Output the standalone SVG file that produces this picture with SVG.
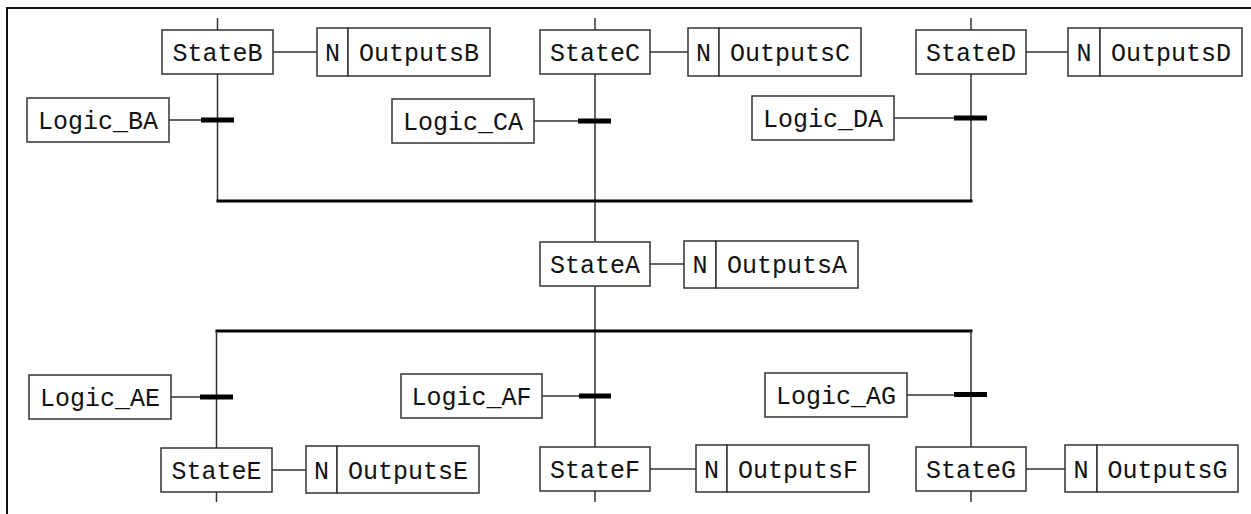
<svg xmlns="http://www.w3.org/2000/svg" width="1251" height="514" viewBox="0 0 1251 514">
  <style>
    .box { fill: #fff; stroke: #333; stroke-width: 1.5; }
    .lbl { font-family: "Liberation Mono", "Courier New", monospace; font-size: 25px; fill: #111; text-anchor: middle; }
    .wire { stroke: #333; stroke-width: 1.5; fill: none; }
    .sync { stroke: #000; stroke-width: 3; fill: none; }
    .bar { stroke: #000; stroke-width: 5; fill: none; }
    .frame { stroke: #111; stroke-width: 2; fill: none; }
  </style>

  <rect x="0" y="0" width="1251" height="514" fill="#fff"/>
  <path class="frame" d="M7,514 V8 H1251"/>

  <!-- connectors: step links, transition bars and divergence/convergence lines -->
  <g id="connectors">
    <path class="wire" d="M217.5,18 V30 M595,18 V30 M971,18 V30"/>
    <path class="wire" d="M273,52 H317 M650,52 H688 M1026,52 H1068"/>
    <path class="wire" d="M217.5,74 V201 M595,74 V242 M971,74 V201"/>
    <path class="wire" d="M169,120 H201 M534,121 H578 M894,118 H954"/>
    <path class="bar" d="M201,120 H234 M578,121 H611 M954,118 H987"/>
    <path class="sync" d="M216.5,201 H972.5"/>
    <path class="wire" d="M650,264 H684"/>
    <path class="wire" d="M595,286 V447"/>
    <path class="sync" d="M215.5,331 H972.5"/>
    <path class="wire" d="M216.5,331 V448 M971,331 V447"/>
    <path class="wire" d="M171,397 H200 M542,396 H579 M907,395 H954"/>
    <path class="bar" d="M200,397 H233 M579,396 H611 M954,394.5 H987"/>
    <path class="wire" d="M272,470 H306 M650,469 H696 M1026,469 H1065"/>
    <path class="wire" d="M216.5,492 V502 M595,491 V502 M971,491 V502"/>
  </g>

  <!-- steps -->
  <g id="StateB"><rect class="box" x="162" y="30" width="111" height="44"/><text class="lbl" x="217.5" y="61">StateB</text></g>
  <g id="StateC"><rect class="box" x="540" y="30" width="110" height="44"/><text class="lbl" x="595" y="61">StateC</text></g>
  <g id="StateD"><rect class="box" x="916" y="30" width="110" height="44"/><text class="lbl" x="971" y="61">StateD</text></g>
  <g id="StateA"><rect class="box" x="540" y="242" width="110" height="44"/><text class="lbl" x="595" y="273">StateA</text></g>
  <g id="StateE"><rect class="box" x="161" y="448" width="111" height="44"/><text class="lbl" x="216.5" y="479">StateE</text></g>
  <g id="StateF"><rect class="box" x="540" y="447" width="110" height="44"/><text class="lbl" x="595" y="478">StateF</text></g>
  <g id="StateG"><rect class="box" x="916" y="447" width="110" height="44"/><text class="lbl" x="971" y="478">StateG</text></g>

  <!-- actions -->
  <g id="ActionB"><rect class="box" x="317" y="28" width="31" height="48"/><rect class="box" x="348" y="28" width="142" height="48"/><text class="lbl" x="332.5" y="61">N</text><text class="lbl" x="419" y="61">OutputsB</text></g>
  <g id="ActionC"><rect class="box" x="688" y="28" width="31" height="48"/><rect class="box" x="719" y="28" width="142" height="48"/><text class="lbl" x="703.5" y="61">N</text><text class="lbl" x="790" y="61">OutputsC</text></g>
  <g id="ActionD"><rect class="box" x="1068" y="28" width="32" height="48"/><rect class="box" x="1100" y="28" width="142" height="48"/><text class="lbl" x="1084" y="61">N</text><text class="lbl" x="1171" y="61">OutputsD</text></g>
  <g id="ActionA"><rect class="box" x="684" y="241" width="32" height="47"/><rect class="box" x="716" y="241" width="142" height="47"/><text class="lbl" x="700" y="273">N</text><text class="lbl" x="787" y="273">OutputsA</text></g>
  <g id="ActionE"><rect class="box" x="306" y="446" width="31" height="47"/><rect class="box" x="337" y="446" width="142" height="47"/><text class="lbl" x="321.5" y="479">N</text><text class="lbl" x="408" y="479">OutputsE</text></g>
  <g id="ActionF"><rect class="box" x="696" y="445" width="31" height="47"/><rect class="box" x="727" y="445" width="142" height="47"/><text class="lbl" x="711.5" y="478">N</text><text class="lbl" x="798" y="478">OutputsF</text></g>
  <g id="ActionG"><rect class="box" x="1065" y="445" width="32" height="47"/><rect class="box" x="1097" y="445" width="141" height="47"/><text class="lbl" x="1081" y="478">N</text><text class="lbl" x="1167.5" y="478">OutputsG</text></g>

  <!-- transition conditions -->
  <g id="Logic_BA"><rect class="box" x="27" y="98" width="142" height="44"/><text class="lbl" x="98" y="129">Logic_BA</text></g>
  <g id="Logic_CA"><rect class="box" x="392" y="99" width="142" height="44"/><text class="lbl" x="463" y="130">Logic_CA</text></g>
  <g id="Logic_DA"><rect class="box" x="752" y="96" width="142" height="44"/><text class="lbl" x="823" y="127">Logic_DA</text></g>
  <g id="Logic_AE"><rect class="box" x="29" y="375" width="142" height="44"/><text class="lbl" x="100" y="406">Logic_AE</text></g>
  <g id="Logic_AF"><rect class="box" x="401" y="374" width="141" height="44"/><text class="lbl" x="471.5" y="405">Logic_AF</text></g>
  <g id="Logic_AG"><rect class="box" x="765" y="373" width="142" height="44"/><text class="lbl" x="836" y="404">Logic_AG</text></g>
</svg>
